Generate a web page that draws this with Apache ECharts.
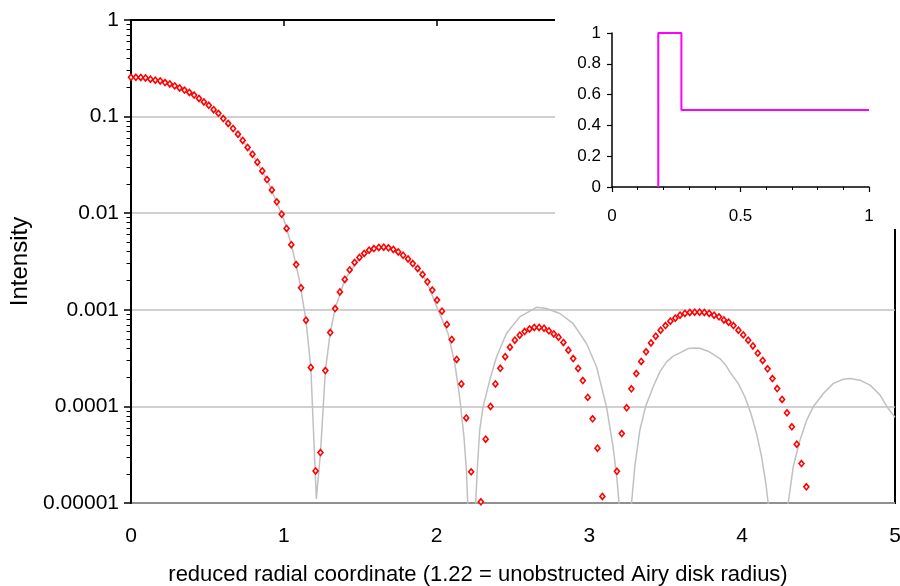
<!DOCTYPE html>
<html><head><meta charset="utf-8">
<script src="https://cdn.jsdelivr.net/npm/echarts@6/dist/echarts.min.js"></script>
<style>html,body{margin:0;padding:0;background:#fff}#c{width:900px;height:586px}</style>
</head><body><div id="c"></div><script>
// Red (obstructed / apodized pupil) samples
const redX = [0,0.032,0.064,0.095,0.127,0.159,0.191,0.223,0.254,0.286,
0.318,0.35,0.382,0.413,0.445,0.477,0.509,0.541,0.572,0.604,
0.636,0.668,0.7,0.731,0.763,0.795,0.827,0.859,0.89,0.922,
0.954,0.986,1.018,1.049,1.081,1.113,1.145,1.177,1.208,1.24,
1.272,1.304,1.336,1.367,1.399,1.431,1.463,1.495,1.526,1.558,
1.59,1.622,1.654,1.685,1.717,1.749,1.781,1.813,1.844,1.876,
1.908,1.94,1.972,2.003,2.035,2.067,2.099,2.131,2.162,2.194,
2.226,2.258,2.29,2.321,2.353,2.385,2.417,2.449,2.48,2.512,
2.544,2.576,2.608,2.639,2.671,2.703,2.735,2.767,2.798,2.83,
2.862,2.894,2.926,2.957,2.989,3.021,3.053,3.085,3.116,3.148,
3.18,3.212,3.244,3.275,3.307,3.339,3.371,3.403,3.434,3.466,
3.498,3.53,3.562,3.593,3.625,3.657,3.689,3.721,3.752,3.784,
3.816,3.848,3.88,3.911,3.943,3.975,4.007,4.039,4.07,4.102,
4.134,4.166,4.198,4.229,4.261,4.293,4.325,4.357,4.388,4.42];
const redY = [0.255,0.255,0.254,0.251,0.244,0.238,0.234,0.225,0.218,0.208,
0.198,0.188,0.178,0.167,0.154,0.142,0.131,0.118,0.108,0.0955,
0.0849,0.0753,0.0658,0.0566,0.0479,0.0408,0.0337,0.0274,0.0223,0.0174,
0.0131,0.00977,0.00695,0.00472,0.00294,0.00169,0.00078,0.000253,0.0000215,0.0000333,
0.000235,0.000582,0.00103,0.00153,0.00206,0.00259,0.00309,0.00348,0.00383,0.00414,
0.00431,0.00442,0.00445,0.00438,0.00421,0.00397,0.00367,0.00336,0.00301,0.00268,
0.00232,0.00195,0.0016,0.00126,0.000968,0.000705,0.000493,0.000306,0.000171,0.000076,
0.000021,null,0.0000103,0.0000458,0.0001,0.000171,0.000248,0.000327,0.00041,0.000484,
0.000546,0.000596,0.000634,0.000656,0.000656,0.000645,0.000605,0.000563,0.00052,0.000459,
0.000382,0.000313,0.000247,0.000185,0.000124,0.0000743,0.0000369,0.0000117,null,null,
0.0000213,0.0000524,0.0000966,0.000152,0.000219,0.000292,0.000367,0.000454,0.000533,0.000615,
0.000687,0.000762,0.000818,0.000879,0.000916,0.000938,0.000945,0.000945,0.000938,0.000916,
0.000879,0.000845,0.000786,0.000744,0.000687,0.000615,0.00055,0.000484,0.000423,0.000356,
0.000299,0.000245,0.000194,0.000153,0.000118,0.0000857,0.0000614,0.0000406,0.0000256,0.0000147];

// Grey reference curve
const greyX = [0,0.1,0.2,0.3,0.4,0.5,0.6,0.7,0.8,0.9,1.0,1.05,1.1,1.145,1.177,1.213,1.24,1.272,1.304,1.336,
1.4,1.5,1.6,1.654,1.7,1.8,1.9,1.936,2.009,2.075,2.119,2.151,2.179,2.195,2.204,2.23,2.256,2.267,2.282,2.304,
2.348,2.392,2.457,2.544,2.654,2.719,2.806,2.893,2.981,3.047,3.112,3.155,3.181,3.194,3.235,3.276,3.297,3.33,3.367,3.417,
3.461,3.505,3.548,3.592,3.646,3.69,3.723,3.777,3.854,3.893,3.919,3.974,4.018,4.057,4.094,4.127,4.155,4.17,4.23,4.301,
4.334,4.378,4.422,4.465,4.531,4.597,4.662,4.706,4.771,4.837,4.902,4.956,5.0];
const greyY = [0.255,0.25,0.232,0.202,0.171,0.134,0.097,0.066,0.0395,0.0207,0.0086,0.0047,0.0021,0.00078,0.00025,0.000011,0.000033,0.000235,0.00058,0.00103,
0.00206,0.00352,0.00435,0.00445,0.0043,0.00349,0.0024,0.00195,0.001,0.000569,0.000278,0.000125,0.0000483,0.0000219,0.0000095,0.000003,0.00001,0.0000237,0.0000567,0.000099,
0.000187,0.000325,0.000569,0.000845,0.00106,0.00103,0.000916,0.000722,0.000448,0.000256,0.000099,0.0000381,0.0000172,0.00001,0.000003,0.00001,0.0000237,0.0000567,0.000099,0.000159,
0.000228,0.000289,0.000331,0.000358,0.000397,0.000403,0.0004,0.000373,0.000313,0.000267,0.000228,0.000173,0.000125,0.0000845,0.0000524,0.00003,0.0000159,0.00001,0.000003,0.00001,
0.0000237,0.0000447,0.000072,0.000099,0.000136,0.000173,0.000191,0.000194,0.000187,0.000166,0.000131,0.000095,0.000077];

// Inset: pupil transmission profile
const insetX = [0.18,0.18,0.27,0.27,1];
const insetY = [0,1,1,0.5,0.5];

const yTickLabels = ['0.00001','0.0001','0.001','0.01','0.1','1'];
const minorMantissa = [2,3,4,5,6,7,8,9];
const decades = [-5,-4,-3,-2,-1];

const minorTickVals = [];
decades.forEach(d => minorMantissa.forEach(m => minorTickVals.push(d + Math.log10(m))));

const FONT = 'Liberation Sans, Arial, sans-serif';
const chart = echarts.init(document.getElementById('c'), null, {renderer: 'canvas'});
chart.setOption({
  animation: false,
  backgroundColor: '#fff',
  textStyle: {fontFamily: FONT, color: '#000'},
  grid: [
    {left: 131, right: 5, top: 20, bottom: 83, show: true, borderColor: '#000', borderWidth: 2,
     backgroundColor: 'transparent', outerBoundsMode: 'none', containLabel: false},
    {left: 612, top: 33, width: 257, height: 154, z: 10, outerBoundsMode: 'none', containLabel: false}
  ],
  graphic: [
    {type: 'rect', shape: {x: 555, y: 0, width: 345, height: 229}, style: {fill: '#fff'}, z: 5}
  ],
  xAxis: [
    {gridIndex: 0, type: 'value', min: 0, max: 5, interval: 1,
     axisLine: {lineStyle: {color: '#000', width: 2}},
     axisTick: {length: 6, lineStyle: {color: '#000', width: 1.5}},
     axisLabel: {fontSize: 21, color: '#000', margin: 23, fontFamily: FONT},
     splitLine: {show: false},
     name: 'reduced radial coordinate (1.22 = unobstructed Airy disk radius)',
     nameLocation: 'middle', nameGap: 61,
     nameTextStyle: {fontSize: 22, color: '#000', fontFamily: FONT, padding: [0, 70, 0, 0]}},
    {gridIndex: 1, type: 'value', min: 0, max: 1, interval: 0.5, z: 10,
     axisLine: {onZero: false, lineStyle: {color: '#000', width: 1.5}},
     axisTick: {length: 5, lineStyle: {color: '#000', width: 1.2}},
     minorTick: {show: true, splitNumber: 5, length: 3, lineStyle: {color: '#000', width: 1}},
     axisLabel: {fontSize: 17, color: '#000', margin: 21, fontFamily: FONT},
     splitLine: {show: false}, minorSplitLine: {show: false}}
  ],
  yAxis: [
    {gridIndex: 0, type: 'log', logBase: 10, min: 0.00001, max: 1, splitNumber: 5,
     axisLine: {lineStyle: {color: '#000', width: 2}},
     axisTick: {length: 7, lineStyle: {color: '#000', width: 1.5}},
     axisLabel: {fontSize: 21, color: '#000', margin: 12, fontFamily: FONT,
       formatter: v => yTickLabels[Math.round(Math.log10(v)) + 5]},
     splitLine: {show: true, lineStyle: {color: '#c0c0c0', width: 1.5}},
     name: 'Intensity', nameLocation: 'middle', nameGap: 93, nameRotate: 90,
     nameTextStyle: {fontSize: 24, color: '#000', fontFamily: FONT}},
    {gridIndex: 0, type: 'value', min: -5, max: 0, position: 'left',
     axisLine: {show: false}, axisLabel: {show: false}, splitLine: {show: false},
     axisTick: {show: true, customValues: minorTickVals, length: 4.5, lineStyle: {color: '#000', width: 1}}},
    {gridIndex: 1, type: 'value', min: 0, max: 1, interval: 0.2, z: 10,
     axisLine: {show: true, onZero: false, lineStyle: {color: '#000', width: 1.5}},
     axisTick: {show: true, length: 5, lineStyle: {color: '#000', width: 1.2}},
     axisLabel: {fontSize: 17, color: '#000', margin: 11, fontFamily: FONT},
     splitLine: {show: false}}
  ],
  series: [
    {type: 'line', xAxisIndex: 0, yAxisIndex: 0, showSymbol: false, clip: true, z: 2,
     lineStyle: {color: '#c0c0c0', width: 1.5},
     data: greyX.map((x, i) => [x, greyY[i]])},
    {type: 'scatter', xAxisIndex: 0, yAxisIndex: 0, clip: true, z: 3,
     symbol: 'diamond', symbolSize: [5, 6],
     itemStyle: {color: '#fff', borderColor: '#ff0000', borderWidth: 1.6, opacity: 1},
     data: redX.map((x, i) => [x, redY[i]]).filter(p => p[1] != null)},
    {type: 'line', xAxisIndex: 1, yAxisIndex: 2, showSymbol: false, z: 12,
     lineStyle: {color: '#ff00ff', width: 2},
     data: insetX.map((x, i) => [x, insetY[i]])}
  ]
});
</script></body></html>
